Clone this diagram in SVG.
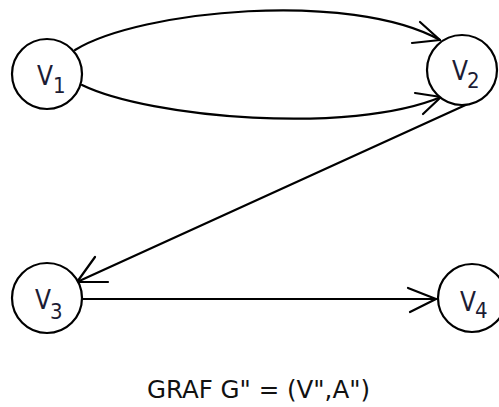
<svg xmlns="http://www.w3.org/2000/svg" width="499" height="407" viewBox="0 0 499 407">
  <style>
    .node circle { fill: #ffffff; stroke: #000000; stroke-width: 2.2; }
    .lbl { font-family: "DejaVu Sans Condensed", "Liberation Sans", sans-serif; fill: #1c1c34; }
    .v { font-size: 26px; }
    .sub { font-size: 22px; }
    .edges path, .edges line, .edges polyline { fill: none; stroke: #000000; stroke-width: 2.2; stroke-linecap: round; stroke-linejoin: round; }
    .title { font-family: "DejaVu Sans Condensed", "Liberation Sans", sans-serif; font-size: 24px; fill: #111111; }
  </style>
  <rect width="499" height="407" fill="#ffffff"/>

  <!-- connectors -->
  <g class="edges" id="edges">
    <!-- V1 -> V2 (upper arc) -->
    <path d="M75,50 C140,10 350,-10 440,40"/>
    <polyline points="420,22 440,40 412,43"/>
    <!-- V1 -> V2 (lower arc) -->
    <path d="M82,85 C150,118 350,135 441,97"/>
    <polyline points="415,93 441,97 423,114"/>
    <!-- V2 -> V3 -->
    <line x1="470" y1="103" x2="77" y2="282"/>
    <polyline points="95,257 77,282 108,282"/>
    <!-- V3 -> V4 -->
    <line x1="82" y1="299" x2="436" y2="299"/>
    <polyline points="408,288 436,299 410,312"/>
  </g>

  <g class="node" id="v1">
    <circle cx="47" cy="74" r="35"/>
    <text class="lbl v" x="37" y="85">V</text>
    <text class="lbl sub" x="53" y="93">1</text>
  </g>
  <g class="node" id="v2">
    <circle cx="462" cy="70" r="35"/>
    <text class="lbl v" x="452" y="80">V</text>
    <text class="lbl sub" x="467" y="88">2</text>
  </g>
  <g class="node" id="v3">
    <circle cx="47" cy="298" r="35"/>
    <text class="lbl v" x="35" y="309">V</text>
    <text class="lbl sub" x="50" y="319">3</text>
  </g>
  <g class="node" id="v4">
    <circle cx="472" cy="298" r="34"/>
    <text class="lbl v" x="460" y="311">V</text>
    <text class="lbl sub" x="475" y="318">4</text>
  </g>

  <text class="title" x="147" y="398" textLength="223" lengthAdjust="spacingAndGlyphs">GRAF G" = (V",A")</text>
</svg>
